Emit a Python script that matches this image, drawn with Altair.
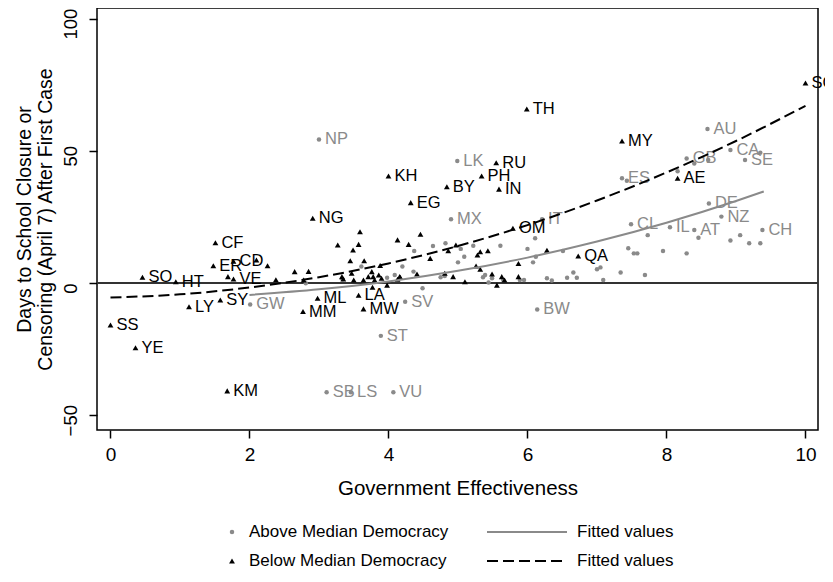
import altair as alt
import pandas as pd

GREY = "#8a8a8a"
BLACK = "#000000"
FONT = "Liberation Sans"

# ── data ────────────────────────────────────────────────────────────────────
# Above median democracy (grey circles); "" = no label
above_code = ["NP", "LK", "MX", "IT", "AU", "GB", "CA", "SE", "ES", "DE", "NZ",
              "CL", "IL", "AT", "CH", "BW", "SV", "ST", "SB", "LS", "VU", "GW"] + [""] * 56
above_x = [3.00, 4.99, 4.90, 6.21, 8.59, 8.29, 8.92, 9.13, 7.36, 8.61, 8.79,
           7.49, 8.05, 8.40, 9.38, 6.14, 4.24, 3.89, 3.11, 3.46, 4.07, 2.01,
           2.81, 3.34, 3.61, 3.98, 4.09, 4.20, 4.37, 4.64, 4.82, 4.49, 4.36,
           4.75, 4.81, 5.04, 5.09, 5.00, 5.22, 5.61, 5.36, 5.39, 5.44, 5.49,
           5.65, 5.89, 5.95, 6.00, 6.11, 6.12, 6.08, 6.28, 6.35, 6.51, 6.66,
           6.57, 6.71, 7.00, 7.05, 7.09, 7.34, 7.69, 7.45, 7.53, 7.58, 7.73,
           7.95, 8.29, 8.46, 8.92, 9.06, 9.19, 9.35, 7.43, 8.16, 8.40, 8.60,
           9.35]
above_y = [54.3, 46.1, 24.1, 24.1, 58.2, 47.1, 50.3, 46.5, 39.6, 30.1, 25.1,
           22.2, 21.1, 20.0, 20.0, -10.0, -7.1, -20.0, -41.3, -41.3, -41.3, -8.1,
           -0.1, 1.4, 6.2, 2.0, 3.0, 6.2, 12.1, 14.0, 15.0, -2.0, 4.3,
           2.2, 2.6, 12.9, 9.9, 7.8, 14.1, 14.1, 2.2, 3.0, 0.2, 1.8,
           1.1, 1.1, 1.1, 12.9, 16.9, 9.9, 7.8, 1.8, 0.9, 12.1, 4.0,
           2.0, 2.0, 5.2, 5.9, 1.1, 4.0, 3.0, 13.1, 11.2, 11.2, 18.1,
           12.1, 11.2, 17.1, 16.1, 18.1, 15.0, 15.0, 38.7, 42.3, 45.2, 46.5,
           49.3]

# Below median democracy (black triangles)
below_code = ["SG", "TH", "MY", "RU", "KH", "PH", "BY", "IN", "EG", "NG", "OM",
              "AE", "CF", "CD", "ER", "VE", "SO", "HT", "LY", "SY", "SS", "YE",
              "KM", "ML", "MM", "LA", "MW", "QA"] + [""] * 52
below_x = [10.00, 5.99, 7.36, 5.55, 4.00, 5.34, 4.84, 5.59, 4.32, 2.91, 5.79,
           8.16, 1.51, 1.77, 1.48, 1.77, 0.46, 0.94, 1.13, 1.58, 0.00, 0.36,
           1.68, 2.98, 2.77, 3.57, 3.64, 6.73,
           1.69, 2.10, 2.26, 2.38, 2.65, 2.85, 2.78, 3.27, 3.57, 3.49, 3.59,
           3.45, 3.65, 3.88, 3.33, 3.35, 3.47, 3.50, 3.64, 3.71, 3.76, 3.78,
           3.80, 3.86, 3.90, 3.77, 3.98, 4.13, 4.17, 4.41, 4.13, 4.46, 4.29,
           4.60, 4.86, 4.97, 5.28, 5.32, 5.43, 5.26, 5.32, 5.87, 6.28, 4.81,
           4.93, 5.10, 5.49, 5.56, 5.63, 5.67, 5.87, 4.16]
below_y = [75.6, 65.8, 53.7, 45.5, 40.5, 40.5, 36.4, 35.5, 30.4, 24.5, 20.7,
           39.6, 15.2, 8.2, 6.5, 1.5, 2.2, 0.5, -9.0, -6.4, -15.9, -24.5,
           -40.8, -5.8, -10.8, -4.6, -9.8, 10.2,
           2.4, 8.7, 6.5, 1.2, 4.3, 4.4, 1.1, 14.4, 14.6, 12.5, 19.4,
           8.4, 8.4, 6.6, 2.4, 1.5, 3.7, 1.1, 1.1, 2.4, 4.3, 2.4,
           1.1, 3.0, 1.8, -1.6, -0.8, 1.4, 2.2, 3.4, 16.3, 18.4, 14.6,
           9.3, 12.2, 14.4, 10.6, 11.8, 12.2, 6.4, 5.2, 7.4, 12.4, 3.7,
           2.4, 0.5, 3.4, -0.8, 2.4, 1.1, 2.4, 2.4]

# fitted curves
fit_above_x = [2.0, 3.0, 4.0, 5.0, 6.0, 7.0, 8.0, 9.0, 9.4]
fit_above_y = [-4.5, -2.4, 0.6, 4.6, 9.6, 15.7, 22.8, 31.0, 34.6]
fit_below_x = [0, 1, 2, 3, 4, 5, 6, 7, 8, 9, 10]
fit_below_y = [-5.5, -4.3, -1.7, 2.2, 7.4, 14.0, 21.9, 31.2, 41.8, 53.7, 67.0]

x_ticks = [0, 2, 4, 6, 8, 10]
y_ticks = [-50, 0, 50, 100]

legend_items = ["Above Median Democracy", "Below Median Democracy"]
legend_fit = ["Fitted values", "Fitted values"]

# ── frames ──────────────────────────────────────────────────────────────────
above = pd.DataFrame({"code": above_code, "x": above_x, "y": above_y})
below = pd.DataFrame({"code": below_code, "x": below_x, "y": below_y})
fit_a = pd.DataFrame({"x": fit_above_x, "y": fit_above_y})
fit_b = pd.DataFrame({"x": fit_below_x, "y": fit_below_y})

Y_DOMAIN = [-55.6, 104.0]

x_enc = alt.X(
    "x:Q",
    scale=alt.Scale(domain=[-0.194, 10.18], nice=False, zero=False),
    axis=alt.Axis(
        values=x_ticks, format="d", title="Government Effectiveness",
        labelFontSize=19, titleFontSize=20.5, titleFontWeight="normal",
        labelPadding=7, titleY=58, titleBaseline="middle",
    ),
)
y_enc = alt.Y(
    "y:Q",
    scale=alt.Scale(domain=Y_DOMAIN, nice=False, zero=False),
    axis=alt.Axis(
        values=y_ticks, format="d",
        title=["Days to School Closure or", "Censoring (April 7) After First Case"],
        labelFontSize=18.5, labelAngle=-90, labelAlign="center", labelBaseline="bottom",
        labelPadding=9, labelOffset=5, titleFontSize=19.5, titleFontWeight="normal",
        titleAngle=-90, titleAlign="center", titleBaseline="alphabetic",
        titleLineHeight=21, titleX=-67, titleY=211,
    ),
)

zero = alt.Chart(pd.DataFrame({"y": [0]})).mark_rule(
    color="#333333", strokeWidth=2
).encode(y=alt.Y("y:Q", scale=alt.Scale(domain=Y_DOMAIN, nice=False, zero=False)))

pts_a = alt.Chart(above).mark_circle(size=20, color=GREY, opacity=1).encode(x=x_enc, y=y_enc)
pts_b = alt.Chart(below).mark_point(
    shape="triangle-up", filled=True, size=34, color=BLACK, opacity=1
).encode(x="x:Q", y="y:Q")

lab_a = alt.Chart(above).transform_filter("datum.code != ''").mark_text(
    align="left", baseline="middle", dx=6, fontSize=16.5, color=GREY
).encode(x="x:Q", y="y:Q", text="code:N")
lab_b = alt.Chart(below).transform_filter("datum.code != ''").mark_text(
    align="left", baseline="middle", dx=6, fontSize=16.5, color=BLACK
).encode(x="x:Q", y="y:Q", text="code:N")

line_a = alt.Chart(fit_a).mark_line(color=GREY, strokeWidth=2, interpolate="monotone").encode(
    x="x:Q", y="y:Q")
line_b = alt.Chart(fit_b).mark_line(
    color=BLACK, strokeWidth=2, strokeDash=[11, 5], interpolate="monotone"
).encode(x="x:Q", y="y:Q")

# ── legend (drawn below the plot) ───────────────────────────────────────────
leg_df = pd.DataFrame({"label": legend_items, "fit": legend_fit})
row1, row2 = leg_df.iloc[[0]], leg_df.iloc[[1]]
leg_circle = alt.Chart(row1).mark_circle(size=20, color=GREY, opacity=1).encode(
    x=alt.value(135), y=alt.value(524))
leg_tri = alt.Chart(row2).mark_point(
    shape="triangle-up", filled=True, size=34, color=BLACK, opacity=1
).encode(x=alt.value(135), y=alt.value(553))
leg_text1 = alt.Chart(row1).mark_text(align="left", baseline="middle", fontSize=17).encode(
    x=alt.value(152), y=alt.value(524), text="label:N")
leg_text2 = alt.Chart(row2).mark_text(align="left", baseline="middle", fontSize=17).encode(
    x=alt.value(152), y=alt.value(553), text="label:N")
leg_line1 = alt.Chart(row1).mark_rule(color=GREY, strokeWidth=2).encode(
    x=alt.value(390), x2=alt.value(470), y=alt.value(524))
leg_line2 = alt.Chart(row2).mark_rule(color=BLACK, strokeWidth=2, strokeDash=[11, 5]).encode(
    x=alt.value(390), x2=alt.value(470), y=alt.value(553))
leg_fit1 = alt.Chart(row1).mark_text(align="left", baseline="middle", fontSize=17).encode(
    x=alt.value(480), y=alt.value(524), text="fit:N")
leg_fit2 = alt.Chart(row2).mark_text(align="left", baseline="middle", fontSize=17).encode(
    x=alt.value(480), y=alt.value(553), text="fit:N")

chart = alt.layer(
    zero, pts_a, pts_b, lab_a, lab_b, line_a, line_b,
    leg_circle, leg_tri, leg_text1, leg_text2, leg_line1, leg_line2, leg_fit1, leg_fit2,
).properties(
    width=721,
    height=422,
    padding={"left": 89, "top": 0, "right": 7, "bottom": 150},
    autosize=alt.AutoSizeParams(type="none"),
).configure(
    font=FONT,
    background="white",
).configure_view(
    stroke=BLACK, strokeWidth=1.5,
).configure_axis(
    domain=False, grid=False, tickSize=8, tickWidth=1.5, tickColor=BLACK,
    labelColor=BLACK, titleColor=BLACK, labelFont=FONT, titleFont=FONT,
)

chart.save("out.html", embed_options={"renderer": "svg", "actions": False})
